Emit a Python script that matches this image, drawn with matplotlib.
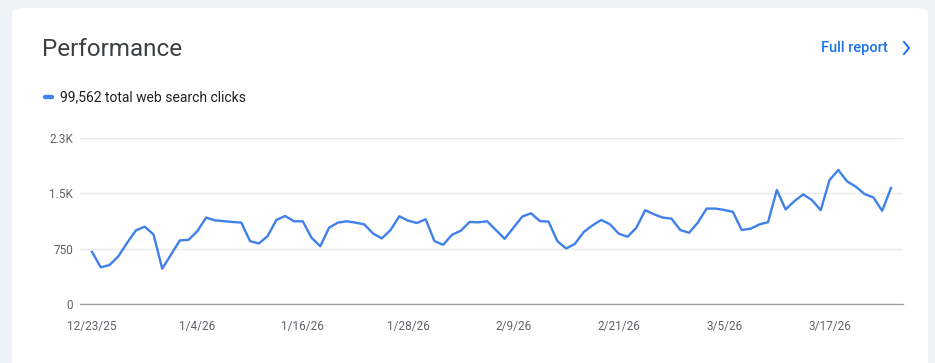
import numpy as np
import pandas as pd
import matplotlib
matplotlib.use("Agg")
import matplotlib.pyplot as plt
from matplotlib.patches import FancyBboxPatch
from matplotlib.lines import Line2D

# daily web search clicks, starting 12/23/25
clicks = [
    709, 500, 532, 650, 832, 1000, 1050, 945, 482, 673,
    864, 873, 991, 1173, 1136, 1125, 1114, 1105, 855, 823,
    923, 1141, 1195, 1123, 1123, 900, 786, 1036, 1105, 1123,
    1105, 1082, 959, 891, 1005, 1191, 1132, 1100, 1150, 855,
    805, 941, 995, 1114, 1109, 1123, 1005, 886, 1036, 1186,
    1232, 1127, 1118, 855, 755, 818, 977, 1068, 1141, 1082,
    955, 914, 1036, 1273, 1218, 1173, 1159, 1005, 968, 1105,
    1295, 1295, 1277, 1250, 1005, 1023, 1080, 1112, 1546, 1283,
    1396, 1487, 1410, 1274, 1681, 1817, 1663, 1591, 1491, 1446,
    1265, 1573,
]
start_date = "2025-12-23"
y_ticks = [0, 750, 1500, 2250]
y_tick_labels = ["0", "750", "1.5K", "2.3K"]
x_tick_step = 12
total_label = "99,562 total web search clicks"

dates = pd.date_range(start_date, periods=len(clicks), freq="D")
days = np.arange(len(clicks))
tick_pos = days[::x_tick_step]
tick_labels = [f"{d.month}/{d.day}/{d.strftime('%y')}" for d in dates[::x_tick_step]]

plt.rcParams["font.family"] = ["Roboto", "DejaVu Sans"]

W, H = 935, 363
fig = plt.figure(figsize=(W / 100, H / 100), dpi=100)
fig.patch.set_facecolor("#eef2f9")

def fx(px):
    return px / W

def fy(py):
    return 1 - py / H

# white card
card = FancyBboxPatch((fx(12), fy(380)), fx(916), (380 - 8) / H,
                      boxstyle="round,pad=0,rounding_size=0.015",
                      transform=fig.transFigure, facecolor="white",
                      edgecolor="none", zorder=0)
fig.add_artist(card)

fig.text(fx(42), fy(49.5), "Performance", fontsize=17.5, color="#3c4043",
         va="center", ha="left")
fig.text(fx(888), fy(48), "Full report", fontsize=10.5, color="#1a73e8",
         va="center", ha="right", fontweight="medium")
fig.add_artist(Line2D([fx(904), fx(909), fx(904)], [fy(42), fy(48), fy(54)],
                      transform=fig.transFigure, color="#1a73e8", lw=1.4,
                      solid_joinstyle="miter"))

# legend
fig.add_artist(Line2D([fx(45), fx(52)], [fy(97), fy(97)],
                      transform=fig.transFigure, color="#4285f4", lw=3.2,
                      solid_capstyle="round"))
fig.text(fx(60), fy(97), total_label, fontsize=10, color="#202124",
         va="center", ha="left")

ax = fig.add_axes([fx(80), fy(304.3), fx(903 - 80), (304.3 - 138) / H])
ax.set_facecolor("none")
ax.plot(days, clicks, color="#3f80ea", lw=1.7, solid_joinstyle="round", zorder=3)

ax.set_ylim(0, 2250)
ax.set_xlim(-1.37, len(clicks) - 1 + 1.37)
ax.set_yticks(y_ticks)
ax.set_yticklabels(y_tick_labels)
ax.set_xticks(tick_pos)
ax.set_xticklabels(tick_labels)
ax.grid(axis="y", color="#e8eaed", lw=1)
ax.set_axisbelow(True)
for s in ["top", "right", "left"]:
    ax.spines[s].set_visible(False)
ax.spines["bottom"].set_color("#9aa0a6")
ax.spines["bottom"].set_linewidth(1)
ax.tick_params(axis="both", length=0, labelsize=8.5, labelcolor="#5f6368")
ax.tick_params(axis="y", pad=5)
ax.tick_params(axis="x", pad=11)

fig.savefig("out.png", dpi=100, facecolor=fig.get_facecolor())
